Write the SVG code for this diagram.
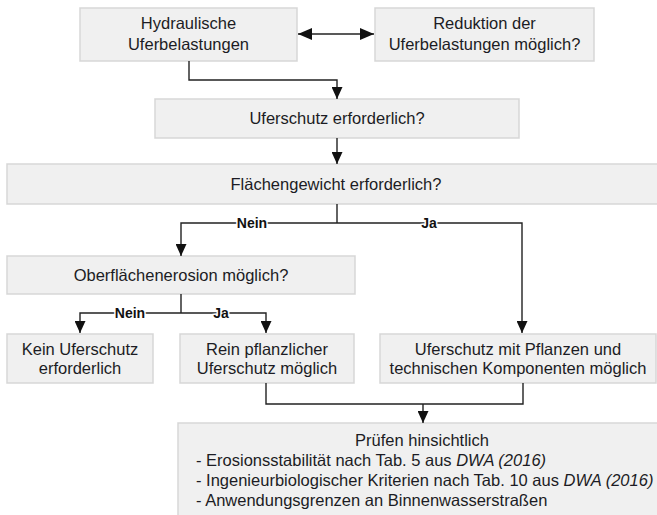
<svg xmlns="http://www.w3.org/2000/svg" width="657" height="515" viewBox="0 0 657 515">
<style>
.box{fill:#f0f0f0;stroke:#d7d7d7;stroke-width:1.5}
.t{font-family:"Liberation Sans",Arial,sans-serif;font-size:16.5px;fill:#1c1c24}
.c{text-anchor:middle}
.ln{fill:none;stroke:#222;stroke-width:1.4}
.lb{font-family:"Liberation Sans",Arial,sans-serif;font-size:14px;font-weight:bold;fill:#111;text-anchor:middle;stroke:#fff;stroke-width:3;paint-order:stroke}
</style>
<defs>
<marker id="ah" viewBox="0 0 12 11" refX="12" refY="5.5" markerWidth="12" markerHeight="11" markerUnits="userSpaceOnUse" orient="auto-start-reverse">
<path d="M0,0 L12,5.5 L0,11 z" fill="#111"/>
</marker>
<marker id="ahw" viewBox="0 0 14 12" refX="14" refY="6" markerWidth="14" markerHeight="12" markerUnits="userSpaceOnUse" orient="auto-start-reverse">
<path d="M0,0 L14,6 L0,12 z" fill="#111"/>
</marker>
</defs>
<rect width="657" height="515" fill="#fff"/>

<g id="n1"><rect class="box" x="80" y="8" width="217" height="53"/>
<text class="t c" x="188.5" y="29">Hydraulische</text>
<text class="t c" x="188.5" y="50">Uferbelastungen</text></g>

<g id="n2"><rect class="box" x="375" y="8" width="219" height="53"/>
<text class="t c" x="484.5" y="29">Reduktion der</text>
<text class="t c" x="484.5" y="50">Uferbelastungen möglich?</text></g>

<g id="n3"><rect class="box" x="155" y="99" width="364" height="39"/>
<text class="t c" x="337" y="124">Uferschutz erforderlich?</text></g>

<g id="n4"><rect class="box" x="7" y="164" width="660" height="40"/>
<text class="t c" x="336" y="190">Flächengewicht erforderlich?</text></g>

<g id="n5"><rect class="box" x="7" y="256" width="348" height="38"/>
<text class="t c" x="181" y="281">Oberflächenerosion möglich?</text></g>

<g id="n6"><rect class="box" x="7" y="334" width="146" height="49"/>
<text class="t c" x="80" y="355">Kein Uferschutz</text>
<text class="t c" x="80" y="374">erforderlich</text></g>

<g id="n7"><rect class="box" x="180" y="334" width="174" height="49"/>
<text class="t c" x="267" y="355">Rein pflanzlicher</text>
<text class="t c" x="267" y="374">Uferschutz möglich</text></g>

<g id="n8"><rect class="box" x="380" y="334" width="276" height="49"/>
<text class="t c" x="518" y="355">Uferschutz mit Pflanzen und</text>
<text class="t c" x="518" y="374">technischen Komponenten möglich</text></g>

<g id="n9"><rect class="box" x="178" y="423" width="490" height="100"/>
<text class="t c" x="422" y="446">Prüfen hinsichtlich</text>
<text class="t" x="196" y="466">- Erosionsstabilität nach Tab. 5 aus <tspan font-style="italic">DWA (2016)</tspan></text>
<text class="t" x="196" y="486">- Ingenieurbiologischer Kriterien nach Tab. 10 aus <tspan font-style="italic">DWA (2016)</tspan></text>
<text class="t" x="196" y="506">- Anwendungsgrenzen an Binnenwasserstraßen</text></g>

<g id="connectors">
<path class="ln" d="M298,34 H374" marker-start="url(#ahw)" marker-end="url(#ahw)"/>
<path class="ln" d="M189,61 V80 H337 V99" marker-end="url(#ah)"/>
<path class="ln" d="M337,138 V164" marker-end="url(#ah)"/>
<path class="ln" d="M337,204 V223"/>
<path class="ln" d="M337,223 H181 V256" marker-end="url(#ah)"/>
<path class="ln" d="M337,223 H522 V333" marker-end="url(#ah)"/>
<path class="ln" d="M181,294 V313"/>
<path class="ln" d="M181,313 H80 V333" marker-end="url(#ah)"/>
<path class="ln" d="M181,313 H266 V333" marker-end="url(#ah)"/>
<path class="ln" d="M266,383 V404 H523 V383"/>
<path class="ln" d="M423,404 V423" marker-end="url(#ah)"/>
<text class="lb" x="252" y="228">Nein</text>
<text class="lb" x="429" y="228">Ja</text>
<text class="lb" x="130" y="318">Nein</text>
<text class="lb" x="221" y="318">Ja</text>
</g>
</svg>
